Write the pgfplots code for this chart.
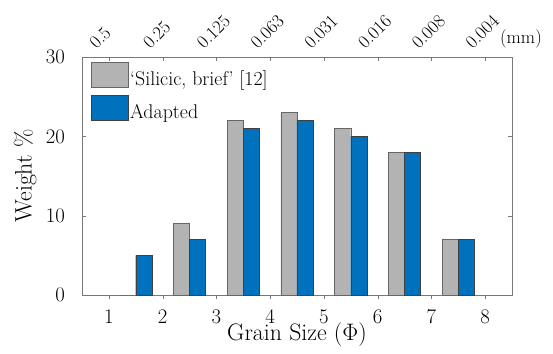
\RequirePackage{fix-cm}
\documentclass[border=0pt]{standalone}
\usepackage{graphicx}
\usepackage{pgfplots}
\pgfplotsset{compat=1.18}
\definecolor{mgray}{RGB}{179,179,179}
\definecolor{mblue}{RGB}{0,114,189}
\definecolor{axgray}{RGB}{120,120,120}
\begin{document}
\begin{tikzpicture}
\begin{axis}[
  at={(0,0)}, anchor=south west,
  scale only axis, width=430pt, height=238pt,
  xmin=0.5, xmax=8.5, ymin=0, ymax=30,
  xtick={1,2,3,4,5,6,7,8}, ytick={0,10,20,30},
  axis line style={axgray}, tick style={axgray},
  major tick length=4pt,
  tick align=inside,
  xtick pos=bottom, ytick pos=both,
  yticklabel pos=left,
  ticklabel style={font=\LARGE, scale=1.2},
  yticklabel style={anchor=east, inner sep=0pt, xshift=-14pt},
  xticklabel style={anchor=north, inner sep=0pt, yshift=-9pt},
  xlabel={\scalebox{1.38}{Grain Size ($\Phi$)}}, ylabel={\scalebox{1.38}{Weight \%}},
  label style={font=\LARGE},
  xlabel style={at={(axis description cs:0.5,-0.19)}, anchor=base, inner sep=0pt},
  ylabel style={at={(axis description cs:-0.1325,0.5)}, anchor=center, inner sep=0pt},
  ybar, bar width=0.3,
  legend style={at={(axis description cs:0.02,0.98)}, anchor=north west, draw=none, fill=none, font=\LARGE, row sep=6pt, inner sep=0pt,
    nodes={inner sep=2pt}},
  legend cell align=left,
  legend image code/.code={\draw[#1, bar shift=0pt] (0pt,-8pt) rectangle (37pt,17pt);},
]
\addplot[fill=mgray, draw=black!60, bar shift=0pt] coordinates {(1.35,0) (2.35,9) (3.35,22) (4.35,23) (5.35,21) (6.35,18) (7.35,7)};
\addlegendentry{\scalebox{1.15}{`Silicic, brief' [12]}}
\addplot[fill=mblue, draw=black!75, bar shift=0pt] coordinates {(1.65,5) (2.65,7) (3.65,21) (4.65,22) (5.65,20) (6.65,18) (7.65,7)};
\addlegendentry{\scalebox{1.15}{Adapted}}
\end{axis}
\begin{axis}[
  at={(0,0)}, anchor=south west,
  scale only axis, width=430pt, height=238pt,
  xmin=0.5, xmax=8.5, ymin=0, ymax=30,
  axis x line*=top, axis y line=none,
  axis line style={axgray}, tick style={axgray},
  major tick length=4pt, tick align=inside,
  xtick={1,2,3,4,5,6,7,8},
  xticklabels={0.5,0.25,0.125,0.063,0.031,0.016,0.008,0.004},
  xticklabel style={font=\LARGE, xshift=-12pt, yshift=7pt, rotate=45, scale=1.07, anchor=south west, inner sep=0pt},
  clip=false,
]
\node[anchor=base west, font=\LARGE, scale=1.07, inner sep=0pt] at (rel axis cs:0.972,1.055) {(mm)};
\end{axis}
\pgfresetboundingbox
\path (-82pt,-58pt) rectangle (471pt,295pt);
\end{tikzpicture}
\end{document}
